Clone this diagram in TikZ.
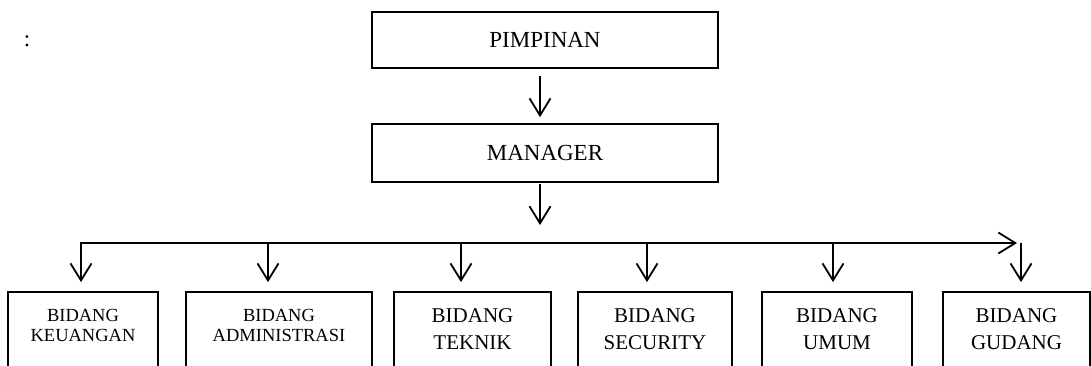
\documentclass[tikz,border=0pt]{standalone}
\usepackage{fontspec}
\setmainfont{Liberation Serif}
\usetikzlibrary{arrows.meta}
\tikzset{
  box/.style={draw, line width=1.8pt, rectangle, inner sep=0pt, align=center},
  topbox/.style={box, minimum width=346pt, font=\fontsize{23}{27}\selectfont},
  bigbox/.style={box, minimum height=75pt, font=\fontsize{21}{27}\selectfont},
  smallbox/.style={box, minimum height=75pt, text depth=8pt, font=\fontsize{18.5}{20.5}\selectfont},
  arr/.style={line width=1.8pt, -{Straight Barb[length=17pt,width=21pt,line width=1.8pt]}},
  bus/.style={line width=1.8pt, line cap=rect, -{Straight Barb[length=17pt,width=21pt,line width=1.8pt]}}
}
\begin{document}
\begin{tikzpicture}[x=1pt,y=-1pt]
\useasboundingbox (0,0) rectangle (1091,365);
\clip (0,0) rectangle (1091,365);
\node (colon) at (27,41) {\fontsize{23}{27}\selectfont :};
\node[topbox, minimum height=56pt] (pim) at (545,40) {PIMPINAN};
\node[topbox, minimum height=58pt] (man) at (545,153) {MANAGER};
\coordinate (p1) at (540,76);
\coordinate (p2) at (540,184);
\coordinate (m1) at (540,225);
\draw[arr] (p1) -- (p1 |- man.north) [shorten >=6pt];
\draw[arr] (p2) -- (m1);
\node[smallbox, minimum width=150pt] (b1) at (83,329.5) {BIDANG\\KEUANGAN};
\node[smallbox, minimum width=186pt] (b2) at (279,329.5) {BIDANG\\ADMINISTRASI};
\node[bigbox, minimum width=157pt] (b3) at (472.5,329.5) {BIDANG\\TEKNIK};
\node[bigbox, minimum width=154pt] (b4) at (655,329.5) {BIDANG\\SECURITY};
\node[bigbox, minimum width=150pt] (b5) at (837,329.5) {BIDANG\\UMUM};
\node[bigbox, minimum width=147pt] (b6) at (1016.5,329.5) {BIDANG\\GUDANG};
\coordinate (t1) at (81,243);
\coordinate (t2) at (268,243);
\coordinate (t3) at (461,243);
\coordinate (t4) at (647,243);
\coordinate (t5) at (833,243);
\coordinate (t6) at (1021,243);
\coordinate (be) at (1017,243);
\draw[bus] (t1) -- (be);
\foreach \i in {1,...,6}{
  \draw[arr, shorten >=9pt] (t\i) -- (t\i |- b\i.north);
}
\end{tikzpicture}
\end{document}
